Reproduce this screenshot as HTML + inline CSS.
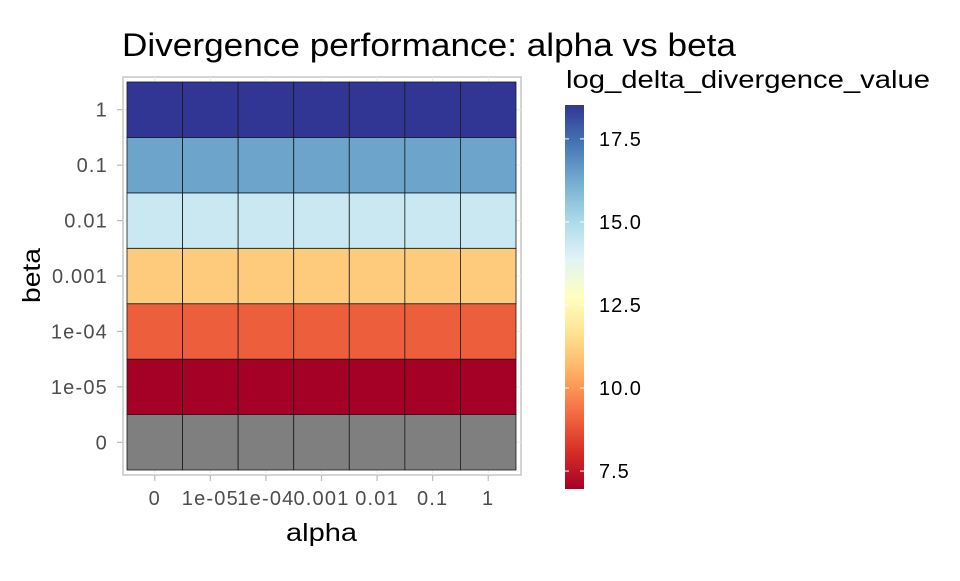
<!DOCTYPE html>
<html><head><meta charset="utf-8"><style>
body{margin:0;background:#fff;font-family:"Liberation Sans",sans-serif;}
svg text{font-family:"Liberation Sans",sans-serif;}
</style></head><body>
<svg id="chart" width="960" height="576" xmlns="http://www.w3.org/2000/svg">
<rect width="960" height="576" fill="#fff"/>
<text x="122" y="56" font-size="32" textLength="614" lengthAdjust="spacingAndGlyphs" fill="#000">Divergence performance: alpha vs beta</text>
<rect x="123" y="77" width="398" height="398" fill="none" stroke="#bdbdbd" stroke-width="1.3"/>
<g id="grid"></g><g id="tiles"></g><g id="xticks"></g><g id="yticks"></g>
<text x="286" y="541" font-size="25" textLength="71" lengthAdjust="spacingAndGlyphs" fill="#000">alpha</text>
<text transform="translate(40,303) rotate(-90)" font-size="25" textLength="55" lengthAdjust="spacingAndGlyphs" fill="#000">beta</text>
<text x="566" y="88" font-size="25" textLength="364" lengthAdjust="spacingAndGlyphs" fill="#000">log_delta_divergence_value</text>
<defs><linearGradient id="cbar" x1="0" y1="1" x2="0" y2="0"></linearGradient></defs>
<rect x="565" y="105" width="19" height="384" fill="url(#cbar)"/>
<g id="legend"></g>
</svg>
<script>
const alphaLabels=["0","1e-05","1e-04","0.001","0.01","0.1","1"];
const betaLabels=["0","1e-05","1e-04","0.001","0.01","0.1","1"];
const rowValues=[null,6.96,9.0,11.1,14.4,16.4,18.52];
const legendTicks=[7.5,10.0,12.5,15.0,17.5];
const pal=["#a50026","#d73027","#f46d43","#fdae61","#fee090","#ffffbf","#e0f3f8","#abd9e9","#74add1","#4575b4","#313695"];
const NS="http://www.w3.org/2000/svg";
const px0=127,px1=516,py0=82,py1=470;
const vmin=6.96,vmax=18.52;
const n=alphaLabels.length,m=betaLabels.length;
const cw=(px1-px0)/n,ch=(py1-py0)/m;
const xc=i=>px0+cw*(i+0.5);
const yc=j=>py1-ch*(j+0.5);
function hex(h){return [1,3,5].map(k=>parseInt(h.substr(k,2),16));}
function color(v){
 if(v==null)return "#7f7f7f";
 let t=(v-vmin)/(vmax-vmin)*(pal.length-1);t=Math.max(0,Math.min(pal.length-1,t));
 const i=Math.min(Math.floor(t),pal.length-2),f=t-i;
 const a=hex(pal[i]),b=hex(pal[i+1]);
 return "rgb("+a.map((x,k)=>Math.round(x+(b[k]-x)*f)).join(",")+")";
}
function mk(tag,attrs,parent){const e=document.createElementNS(NS,tag);for(const k in attrs)e.setAttribute(k,attrs[k]);parent.appendChild(e);return e;}
const grid=document.getElementById("grid"),tiles=document.getElementById("tiles"),xt=document.getElementById("xticks"),yt=document.getElementById("yticks"),lg=document.getElementById("legend");
for(let i=0;i<n;i++){
 const g=mk("line",{x1:xc(i),x2:xc(i),y1:77,y2:475,stroke:"#ebebeb","stroke-width":1},grid);
 
 
 const tk=mk("line",{x1:xc(i),x2:xc(i),y1:475,y2:481,stroke:"#bdbdbd","stroke-width":1.2},xt);
 
 
 const t=mk("text",{x:xc(i),y:505,"font-size":20,"letter-spacing":"1.2","text-anchor":"middle",fill:"#4d4d4d"},xt);
 t.textContent=alphaLabels[i];
 
 
}
for(let j=0;j<m;j++){
 const g=mk("line",{x1:123,x2:521,y1:yc(j),y2:yc(j),stroke:"#ebebeb","stroke-width":1},grid);
 
 
 const tk=mk("line",{x1:117,x2:123,y1:yc(j),y2:yc(j),stroke:"#bdbdbd","stroke-width":1.2},yt);
 
 
 const t=mk("text",{x:108,y:yc(j)+7,"font-size":20,"letter-spacing":"1.2","text-anchor":"end",fill:"#4d4d4d"},yt);
 t.textContent=betaLabels[j];
 
 
}
for(let j=0;j<m;j++)for(let i=0;i<n;i++){
 const r=mk("rect",{x:px0+cw*i,y:yc(j)-ch/2,width:cw,height:ch,fill:color(rowValues[j]),stroke:"#1a1a1a","stroke-width":0.8},tiles);
 
 
}
const gr=document.getElementById("cbar");
pal.forEach((c,k)=>mk("stop",{offset:(k/(pal.length-1)),"stop-color":c},gr));
const ly=v=>489-(v-vmin)/(vmax-vmin)*384;
legendTicks.forEach(v=>{
 const a=mk("line",{x1:565,x2:569,y1:ly(v),y2:ly(v),stroke:"#fff","stroke-width":1},lg);
 
 
 const b=mk("line",{x1:580,x2:584,y1:ly(v),y2:ly(v),stroke:"#fff","stroke-width":1},lg);
 
 
 const t=mk("text",{x:599,y:ly(v)+7,"font-size":20,"letter-spacing":"1","fill":"#000"},lg);
 t.textContent=v.toFixed(1);
 
 
});
</script>
</body></html>
